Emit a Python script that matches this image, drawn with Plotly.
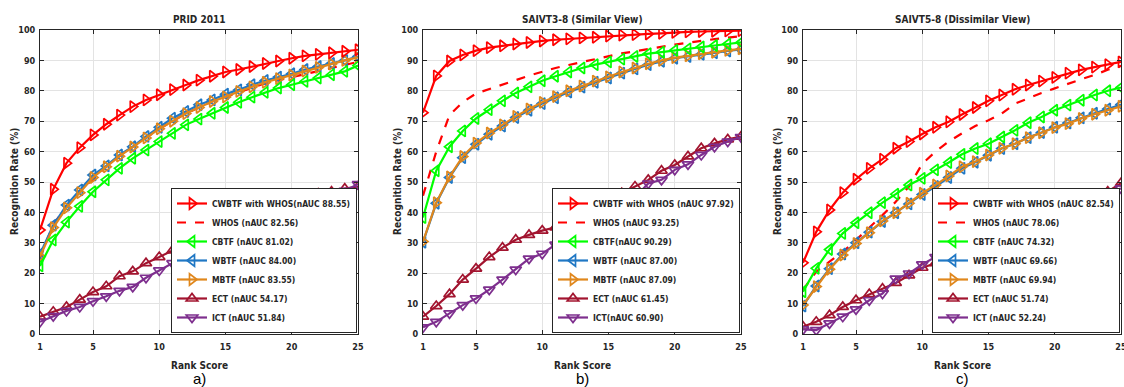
import plotly.graph_objects as go

ranks = list(range(1, 26))

# ---------- Panel a: PRID 2011 ----------
a_cwbtf = [34.2, 47.6, 56.2, 61.3, 65.5, 69.0, 72.0, 74.8, 77.0, 78.7, 80.4, 81.9, 83.5, 84.8, 86.2, 87.0, 88.0, 89.0, 89.8, 90.7, 91.5, 92.0, 92.5, 93.0, 93.5]
a_whos = [25.0, 36.0, 42.0, 47.0, 51.0, 55.0, 58.5, 61.5, 64.5, 67.5, 70.0, 72.5, 74.5, 76.5, 78.0, 79.5, 81.0, 82.5, 83.5, 84.5, 85.5, 86.5, 87.5, 88.5, 89.5]
a_cbtf = [22.4, 30.9, 36.8, 42.0, 46.8, 50.7, 54.5, 57.8, 60.5, 63.3, 66.0, 68.8, 70.7, 72.6, 74.5, 76.2, 77.9, 79.5, 80.9, 82.0, 83.1, 84.2, 85.3, 86.4, 88.3]
a_wbtf = [26.3, 35.8, 42.4, 47.4, 52.3, 55.3, 58.9, 61.6, 65.0, 68.0, 71.0, 73.2, 75.4, 77.0, 78.9, 80.3, 82.0, 83.4, 84.5, 85.6, 87.0, 88.0, 89.0, 90.0, 91.3]
a_mbtf = [25.5, 35.0, 41.5, 46.5, 51.5, 55.0, 58.5, 61.5, 64.5, 67.5, 70.0, 72.5, 74.5, 76.5, 78.0, 79.8, 81.3, 82.8, 84.0, 85.2, 86.5, 87.7, 88.8, 90.0, 91.0]
a_ect = [5.7, 7.3, 8.9, 11.3, 13.8, 15.7, 19.0, 20.6, 23.3, 25.3, 27.5, 29.4, 31.6, 33.0, 34.5, 35.5, 37.5, 38.9, 40.3, 42.9, 44.9, 46.2, 46.8, 47.8, 48.5]
a_ict = [4.0, 5.9, 7.6, 8.9, 10.8, 12.4, 14.2, 15.5, 18.5, 20.9, 23.3, 26.9, 28.6, 30.0, 32.0, 34.0, 36.0, 37.5, 37.5, 39.5, 40.6, 43.8, 46.0, 47.1, 49.3]
a_names = ["CWBTF with WHOS(nAUC 88.55)", "WHOS (nAUC 82.56)", "CBTF (nAUC 81.02)", "WBTF (nAUC 84.00)",
           "MBTF (nAUC 83.55)", "ECT (nAUC 54.17)", "ICT (nAUC 51.84)"]

# ---------- Panel b: SAIVT3-8 (Similar View) ----------
b_cwbtf = [72.8, 84.9, 89.8, 91.8, 93.2, 94.2, 94.8, 95.4, 95.9, 96.4, 96.8, 97.1, 97.4, 97.6, 98.0, 98.3, 98.5, 98.7, 98.9, 99.2, 99.4, 99.5, 99.6, 99.7, 99.8]
b_whos = [45.5, 60.0, 72.0, 76.3, 79.1, 80.5, 82.0, 83.5, 85.0, 86.3, 87.5, 88.5, 89.5, 90.5, 91.5, 92.3, 93.0, 93.8, 94.5, 95.2, 95.8, 96.5, 97.0, 97.5, 98.0]
b_cbtf = [38.3, 53.7, 61.6, 66.8, 70.9, 73.8, 76.7, 79.3, 81.3, 83.3, 84.8, 86.2, 87.5, 88.6, 89.5, 90.4, 91.3, 92.2, 92.7, 93.3, 93.8, 94.4, 94.9, 95.4, 95.9]
b_wbtf = [30.2, 43.0, 51.5, 58.0, 62.4, 65.7, 68.4, 71.2, 73.6, 75.8, 77.7, 79.6, 81.2, 82.8, 84.2, 85.8, 87.2, 88.6, 89.7, 90.7, 91.3, 92.0, 92.5, 93.1, 93.6]
b_mbtf = [30.4, 43.2, 51.7, 58.4, 62.8, 66.1, 68.8, 71.6, 74.0, 76.2, 78.1, 80.0, 81.6, 83.2, 84.6, 86.2, 87.5, 88.9, 90.0, 90.9, 91.5, 92.2, 92.7, 93.3, 93.8]
b_ect = [5.7, 9.2, 13.1, 17.9, 21.5, 25.3, 28.4, 31.0, 32.6, 34.0, 35.1, 37.8, 39.2, 41.1, 42.9, 46.3, 48.5, 50.7, 53.7, 55.6, 58.4, 61.1, 62.7, 64.0, 64.9]
b_ict = [2.2, 4.0, 6.8, 9.5, 11.7, 14.6, 17.9, 21.2, 24.8, 26.4, 29.4, 30.5, 32.7, 36.0, 40.0, 42.9, 45.0, 49.5, 50.7, 54.0, 55.8, 58.9, 61.6, 63.3, 64.8]
b_names = ["CWBTF with WHOS (nAUC 97.92)", "WHOS (nAUC 93.25)", "CBTF(nAUC 90.29)", "WBTF (nAUC 87.00)",
           "MBTF (nAUC 87.09)", "ECT (nAUC 61.45)", "ICT(nAUC 60.90)"]

# ---------- Panel c: SAIVT5-8 (Dissimilar View) ----------
c_cwbtf = [23.4, 33.6, 40.8, 46.5, 50.9, 54.5, 57.5, 61.1, 63.3, 65.8, 68.0, 69.8, 72.2, 74.5, 76.7, 78.6, 80.5, 81.9, 83.2, 84.4, 85.8, 86.9, 87.8, 88.6, 89.5]
c_whos = [14.5, 20.5, 23.8, 27.0, 30.9, 34.9, 39.1, 43.5, 48.5, 56.0, 60.0, 63.3, 66.0, 68.4, 70.3, 72.5, 75.8, 77.5, 79.3, 80.8, 82.4, 83.8, 85.2, 86.9, 88.2]
c_cbtf = [13.9, 21.6, 27.8, 33.1, 36.6, 39.9, 43.2, 46.0, 49.0, 51.2, 54.0, 56.4, 59.1, 61.0, 62.6, 64.8, 67.0, 69.5, 71.4, 73.6, 75.3, 76.9, 78.6, 80.0, 81.1]
c_wbtf = [9.2, 15.8, 21.5, 26.3, 30.0, 33.5, 37.0, 39.9, 42.8, 45.9, 48.5, 51.5, 54.5, 56.5, 58.8, 61.0, 62.6, 64.6, 66.3, 68.0, 69.4, 71.1, 72.6, 74.0, 75.5]
c_mbtf = [9.5, 15.6, 21.3, 26.0, 29.8, 33.3, 37.2, 39.9, 43.0, 46.3, 49.0, 52.0, 55.0, 56.7, 58.9, 61.1, 62.6, 64.6, 66.2, 67.9, 69.2, 70.9, 72.3, 73.6, 74.9]
c_ect = [2.4, 4.0, 6.2, 8.9, 11.1, 13.1, 14.9, 16.8, 19.3, 21.8, 23.3, 26.2, 28.6, 30.5, 32.5, 34.5, 36.5, 37.8, 38.9, 41.1, 42.5, 43.6, 45.1, 46.8, 49.6]
c_ict = [1.5, 1.3, 3.5, 5.7, 8.1, 11.1, 13.3, 18.2, 19.9, 22.9, 25.3, 27.3, 29.1, 31.0, 33.0, 35.0, 36.8, 38.2, 39.5, 41.1, 42.7, 43.8, 45.1, 46.0, 47.9]
c_names = ["CWBTF with WHOS (nAUC 82.54)", "WHOS (nAUC 78.06)", "CBTF (nAUC 74.32)", "WBTF (nAUC 69.66)",
           "MBTF (nAUC 69.94)", "ECT (nAUC 51.74)", "ICT (nAUC 52.24)"]

titles = ["PRID 2011", "SAIVT3-8 (Similar View)", "SAIVT5-8 (Dissimilar View)"]
panel_tags = ["a)", "b)", "c)"]
x_ticks = [1, 5, 10, 15, 20, 25]
y_ticks = list(range(0, 101, 10))

colors = ["#ff0000", "#ff0000", "#00ff00", "#1f77c4", "#e0871c", "#a2142f", "#7e2f8e"]
symbols = ["triangle-right-open", None, "triangle-left-open", "triangle-left-open",
           "triangle-right-open", "triangle-up-open", "triangle-down-open"]
dashes = ["solid", "dash", "solid", "solid", "solid", "solid", "solid"]
draw_order = [5, 6, 1, 3, 4, 2, 0]

panels = [
    ([a_cwbtf, a_whos, a_cbtf, a_wbtf, a_mbtf, a_ect, a_ict], a_names),
    ([b_cwbtf, b_whos, b_cbtf, b_wbtf, b_mbtf, b_ect, b_ict], b_names),
    ([c_cwbtf, c_whos, c_cbtf, c_wbtf, c_mbtf, c_ect, c_ict], c_names),
]

W, H = 1124, 387
x_px = [(40, 358), (423, 741), (803, 1121)]
y_top, y_bot = 30, 334

FONT = "DejaVu Sans Condensed, Liberation Sans, Arial"
TXT = "#262626"


def nfont(size, color=TXT, bold=True):
    return dict(family=FONT, size=size, color=color, weight="bold" if bold else "normal")


def label(text, xp, yp, font, angle=0):
    fig.add_annotation(text=text, x=xp / W, y=1 - yp / H, xref="paper", yref="paper",
                       xanchor="center", yanchor="middle", showarrow=False,
                       textangle=angle, font=font)


fig = go.Figure()

for p, (series, names) in enumerate(panels):
    sfx = "" if p == 0 else str(p + 1)
    leg = "legend" if p == 0 else f"legend{p + 1}"
    for i in draw_order:
        mode = "lines" if symbols[i] is None else "lines+markers"
        marker = dict(symbol=symbols[i], size=10, color=colors[i], line=dict(width=1.7, color=colors[i])) if symbols[i] else None
        fig.add_trace(go.Scatter(
            x=ranks, y=series[i], mode=mode, name=names[i],
            line=dict(color=colors[i], width=2.2, dash=dashes[i]),
            marker=marker, xaxis="x" + sfx, yaxis="y" + sfx,
            legend=leg, legendrank=i + 1, showlegend=True,
        ))
    x0, x1 = x_px[p]
    axis_common = dict(showline=True, linecolor=TXT, linewidth=1, mirror="ticks",
                       ticks="inside", ticklen=4, tickcolor=TXT, automargin=False,
                       showgrid=True, gridcolor="#e3e3e3", gridwidth=1, zeroline=False,
                       tickfont=nfont(9), ticklabeloverflow="allow")
    fig.update_layout(**{
        "xaxis" + sfx: dict(domain=[x0 / W, x1 / W], range=[1, 25], tickvals=x_ticks,
                            anchor="y" + sfx, ticklabelstandoff=4, **axis_common),
        "yaxis" + sfx: dict(domain=[1 - y_bot / H, 1 - y_top / H], range=[0, 100], tickvals=y_ticks,
                            anchor="x" + sfx, ticklabelstandoff=2, **axis_common),
        leg: dict(x=(x1 - 1) / W, y=1 - (y_bot - 1) / H, xanchor="right", yanchor="bottom",
                  bgcolor="white", bordercolor=TXT, borderwidth=1,
                  font=nfont(8.5),
                  tracegroupgap=0, itemwidth=30, traceorder="normal"),
    })
    cx = (x0 + x1) / 2
    label(titles[p], cx, 19, nfont(10))
    label("Rank Score", cx, 365, nfont(10))
    label("Recognition Rate (%)", x0 - 26, 182, nfont(10), angle=-90)
    label(panel_tags[p], cx, 378, dict(family="Liberation Sans, Arial", size=15, color="black"))

fig.update_layout(width=W, height=H, margin=dict(l=0, r=0, t=0, b=0, autoexpand=False),
                  plot_bgcolor="white", paper_bgcolor="white", showlegend=True)

fig.write_html("out.html")
